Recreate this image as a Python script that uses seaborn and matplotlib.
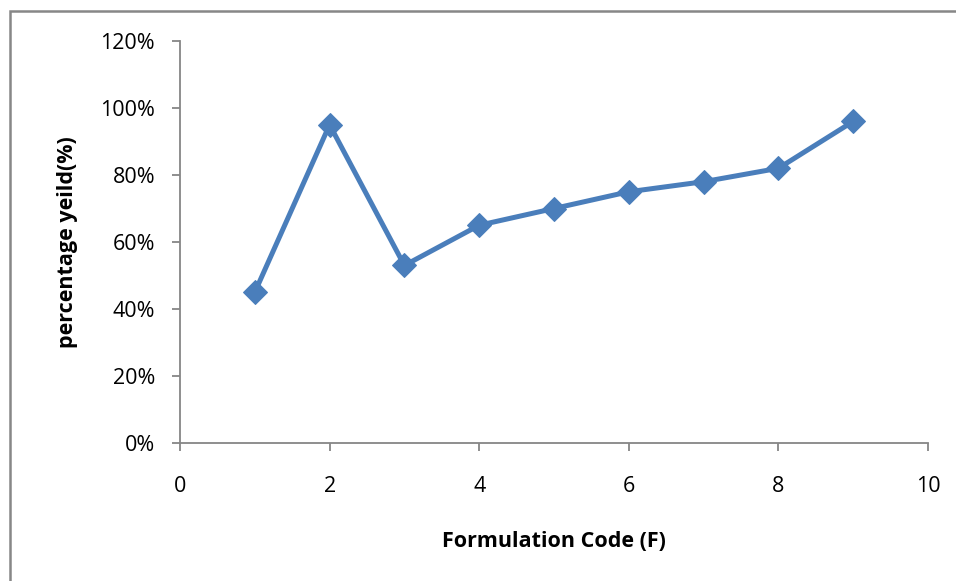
import matplotlib
matplotlib.use("Agg")
import matplotlib.pyplot as plt
import seaborn as sns
import pandas as pd
from matplotlib.patches import Rectangle
from matplotlib.ticker import PercentFormatter

formulation_code = [1, 2, 3, 4, 5, 6, 7, 8, 9]
percentage_yield = [0.45, 0.95, 0.53, 0.65, 0.70, 0.75, 0.78, 0.82, 0.96]

df = pd.DataFrame({"code": formulation_code, "yield": percentage_yield})

sns.set_style("white")
plt.rcParams["font.family"] = ["Open Sans", "DejaVu Sans"]

fig = plt.figure(figsize=(9.56, 5.81), dpi=100)
ax = fig.add_axes([180 / 956, 1 - 443 / 581, (928 - 180) / 956, (443 - 41) / 581])

line_color = "#4A7EBB"
sns.lineplot(data=df, x="code", y="yield", ax=ax, color=line_color,
             linewidth=3.6, marker="D", markersize=12.5,
             markeredgecolor=line_color, markerfacecolor=line_color)

ax.set_xlim(0, 10)
ax.set_ylim(0, 1.2)
ax.set_xticks(range(0, 11, 2))
ax.set_yticks([0, 0.2, 0.4, 0.6, 0.8, 1.0, 1.2])
ax.yaxis.set_major_formatter(PercentFormatter(1.0, decimals=0))

axis_gray = "#868686"
for side in ["top", "right"]:
    ax.spines[side].set_visible(False)
for side in ["left", "bottom"]:
    ax.spines[side].set_color(axis_gray)
    ax.spines[side].set_linewidth(1.3)
ax.tick_params(axis="both", which="major", bottom=True, left=True,
               direction="out", length=6, width=1.3,
               color=axis_gray, labelsize=15.5, labelcolor="black")
ax.tick_params(axis="x", pad=18)
ax.tick_params(axis="y", pad=12)

ax.set_xlabel("Formulation Code (F)", fontsize=15.5, fontweight="bold",
              labelpad=24, color="black")
ax.set_ylabel("percentage yeild(%)", fontsize=15.5, fontweight="bold",
              labelpad=16, color="black")

# chart frame
fig.patches.append(Rectangle((10 / 956, -0.1), 1.2, 1 - 11 / 581 + 0.1,
                             transform=fig.transFigure, fill=False,
                             edgecolor="#878787", linewidth=1.8))

fig.savefig("out.png", dpi=100)
